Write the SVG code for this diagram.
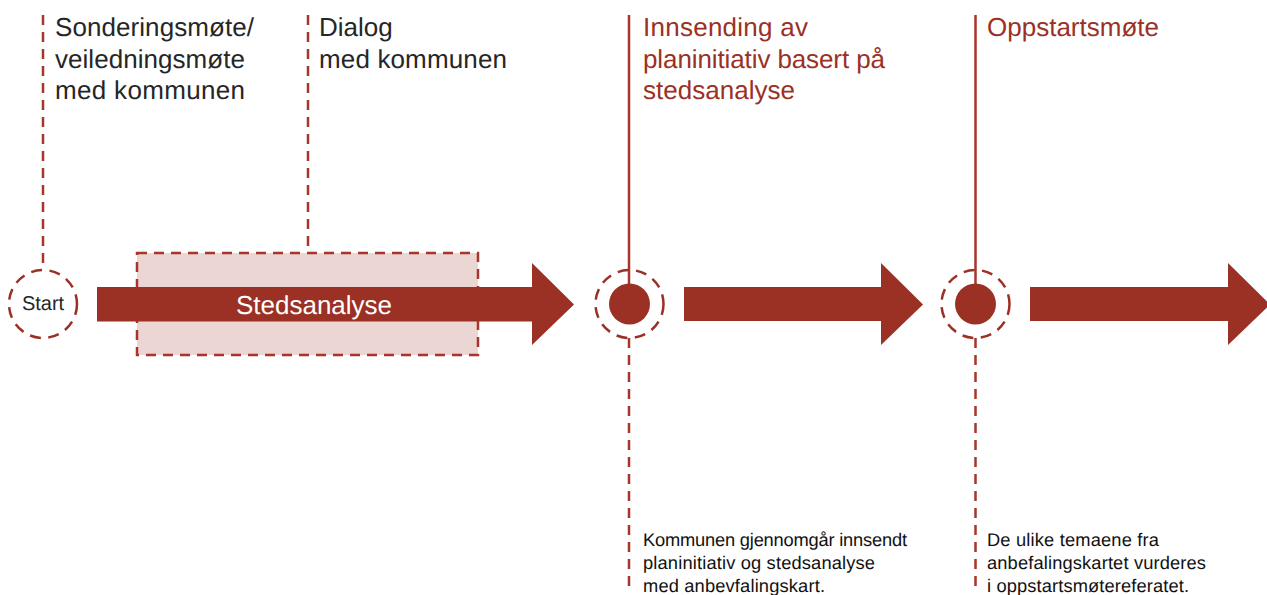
<svg xmlns="http://www.w3.org/2000/svg" width="1267" height="595" viewBox="0 0 1267 595" text-rendering="geometricPrecision">
<style>
text{font-family:"Liberation Sans",Arial,sans-serif}
.h{font-size:26px;fill:#262626}
.r{font-size:26px;fill:#9b3024}
.s{font-size:18.300px;fill:#111}
.d{stroke:#a8352b;stroke-width:2.500;fill:none;stroke-dasharray:10 7}
.c{stroke:#9b3024;stroke-width:2.500;fill:none;stroke-dasharray:11 7.500}
.l{stroke:#a8352b;stroke-width:2.500;fill:none}
.a{fill:#9b3024}
</style>
<rect width="1267" height="595" fill="#fff"/>
<g id="connectors">
<path class="d" d="M43 15V269"/>
<path class="d" d="M308 15V253"/>
<path class="l" d="M629 15V285"/>
<path class="l" d="M975.500 15V285"/>
<path class="d" d="M629 338V592"/>
<path class="d" d="M975.500 338V592"/>
</g>
<g id="stedsanalyse-box"><rect x="137" y="253" width="341" height="102" fill="#ecd6d4" stroke="#a8352b" stroke-width="2.500" stroke-dasharray="10 7"/></g>
<g id="arrow-1"><path class="a" d="M97 287H532V263L574 304.500L532 345V321.500H97Z"/>
<text x="314" y="314" font-size="26" fill="#fff" text-anchor="middle">Stedsanalyse</text></g>
<g id="arrow-2"><path class="a" d="M684 287H881V263L923 304.500L881 345V321H684Z"/></g>
<g id="arrow-3"><path class="a" d="M1030 287H1228V263L1270 304.500L1228 345V321H1030Z"/></g>
<g id="start"><circle class="c" cx="43" cy="304" r="34"/><text x="43" y="310" font-size="20" fill="#262626" text-anchor="middle">Start</text></g>
<g id="milestone-1"><circle class="c" cx="629.500" cy="304" r="34"/><circle class="a" cx="629.500" cy="304" r="20.500"/></g>
<g id="milestone-2"><circle class="c" cx="975.500" cy="304" r="34"/><circle class="a" cx="975.500" cy="304" r="20.500"/></g>
<g id="label-sondering"><text class="h" x="55" y="36" textLength="199">Sonderingsmøte/</text><text class="h" x="55" y="68" textLength="190">veiledningsmøte</text><text class="h" x="55" y="99" textLength="190">med kommunen</text></g>
<g id="label-dialog"><text class="h" x="319" y="36">Dialog</text><text class="h" x="319" y="68" textLength="188">med kommunen</text></g>
<g id="label-innsending"><text class="r" x="643" y="36" textLength="165">Innsending av</text><text class="r" x="643" y="68" textLength="242">planinitiativ basert på</text><text class="r" x="643" y="99" textLength="152">stedsanalyse</text></g>
<g id="label-oppstart"><text class="r" x="987" y="36" textLength="172">Oppstartsmøte</text></g>
<g id="note-1"><text class="s" x="643" y="546" textLength="264">Kommunen gjennomgår innsendt</text><text class="s" x="643" y="569" textLength="232">planinitiativ og stedsanalyse</text><text class="s" x="643" y="592" textLength="182">med anbevfalingskart.</text></g>
<g id="note-2"><text class="s" x="987" y="546" textLength="172">De ulike temaene fra</text><text class="s" x="987" y="569" textLength="219">anbefalingskartet vurderes</text><text class="s" x="987" y="592" textLength="202">i oppstartsmøtereferatet.</text></g>
</svg>
